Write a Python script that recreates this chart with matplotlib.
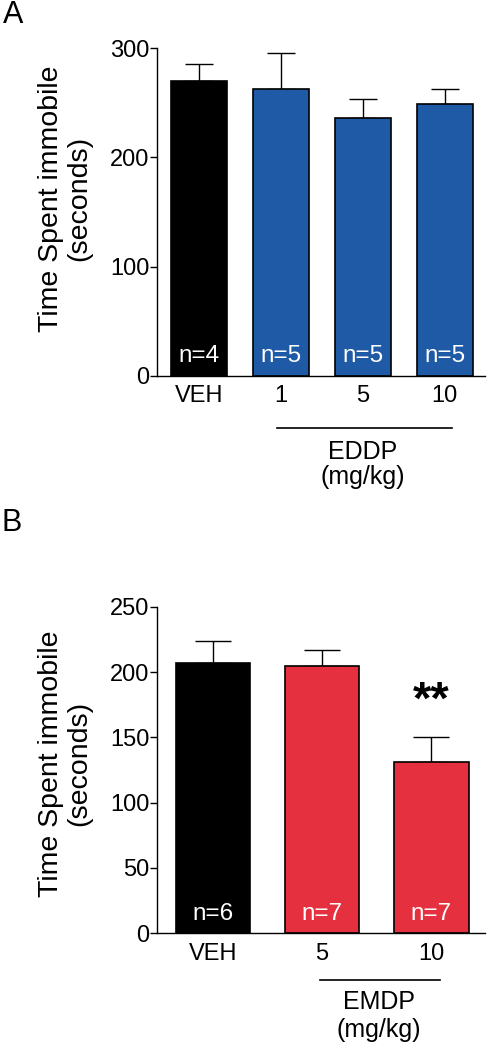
import matplotlib
matplotlib.use("Agg")
import matplotlib.pyplot as plt
import matplotlib.transforms as mtransforms

plt.rcParams['font.family'] = ['Liberation Sans', 'DejaVu Sans']

# Panel A data
a_labels = ["VEH", "1", "5", "10"]
a_means = [270, 263, 236, 249]
a_sem = [16, 33, 18, 14]
a_n = ["n=4", "n=5", "n=5", "n=5"]
a_colors = ["#000000", "#1F5AA6", "#1F5AA6", "#1F5AA6"]

# Panel B data
b_labels = ["VEH", "5", "10"]
b_means = [207, 204.5, 131.5]
b_sem = [17, 12, 19]
b_n = ["n=6", "n=7", "n=7"]
b_colors = ["#000000", "#E5313F", "#E5313F"]

W, H = 489, 1049
fig = plt.figure(figsize=(W / 100, H / 100), dpi=100)

TICK_FS = 17
XLAB_FS = 17
N_FS = 17.5
YLAB_FS = 20.5
DRUG_FS = 18


def panel(rect, labels, means, sem, ns, colors, ymax, yticks, xlim, capsize,
          ylab_y, line_x, line_y, drug, drug_x, drug_y, mg_y):
    ax = fig.add_axes(rect)
    x = list(range(len(labels)))
    ax.bar(x, means, width=0.68, color=colors, edgecolor="black", linewidth=1.2, zorder=2)
    ax.errorbar(x, means, yerr=[[0] * len(sem), sem], fmt="none", ecolor="black",
                elinewidth=1.0, capsize=capsize, capthick=1.0, zorder=1)
    ax.set_xlim(*xlim)
    ax.set_ylim(0, ymax)
    ax.set_yticks(yticks)
    ax.set_xticks(x)
    ax.set_xticklabels(labels, fontsize=XLAB_FS)
    ax.tick_params(axis="x", length=0, pad=7)
    ax.tick_params(axis="y", length=5, width=1.0, pad=0.5, labelsize=TICK_FS)
    for s in ["top", "right"]:
        ax.spines[s].set_visible(False)
    for s in ["left", "bottom"]:
        ax.spines[s].set_linewidth(1.0)
    trans = mtransforms.blended_transform_factory(ax.transData, ax.transAxes)
    for xi, n in zip(x, ns):
        ax.annotate(n, xy=(xi, 0), xytext=(0, 14), textcoords="offset points",
                    ha="center", va="center", color="white", fontsize=N_FS)
    ax.text(-0.28, ylab_y, "Time Spent immobile\n(seconds)", transform=ax.transAxes,
            rotation=90, ha="center", va="center", fontsize=YLAB_FS,
            multialignment="center", linespacing=1.15)
    ax.plot(line_x, [line_y, line_y], color="black", linewidth=1.2, transform=trans,
            clip_on=False)
    ax.text(drug_x, drug_y, drug, transform=trans, ha="center", va="center", fontsize=DRUG_FS)
    ax.text(drug_x, mg_y, "(mg/kg)", transform=trans, ha="center", va="center", fontsize=DRUG_FS)
    return ax


axA = panel([157 / W, 1 - 375.7 / H, (485 - 157) / W, (375.7 - 48.3) / H],
            a_labels, a_means, a_sem, a_n, a_colors, 300, [0, 100, 200, 300],
            (-0.51, 3.49), 10, 0.541, [0.95, 3.09], -0.1607, "EDDP", 2.0, -0.232, -0.3085)

axB = panel([157 / W, 1 - 933.3 / H, (485 - 157) / W, (933.3 - 606.7) / H],
            b_labels, b_means, b_sem, b_n, b_colors, 250, [0, 50, 100, 150, 200, 250],
            (-0.51, 2.49), 13, 0.52, [0.98, 2.08], -0.143, "EMDP", 1.52, -0.209, -0.296)

axB.text(2, 177, "**", ha="center", va="center", fontsize=34, fontweight="bold")

fig.text(13 / W, 1 - 15 / H, "A", ha="center", va="center", fontsize=22)
fig.text(12 / W, 1 - 523 / H, "B", ha="center", va="center", fontsize=22)

fig.savefig("out.png", dpi=100)
